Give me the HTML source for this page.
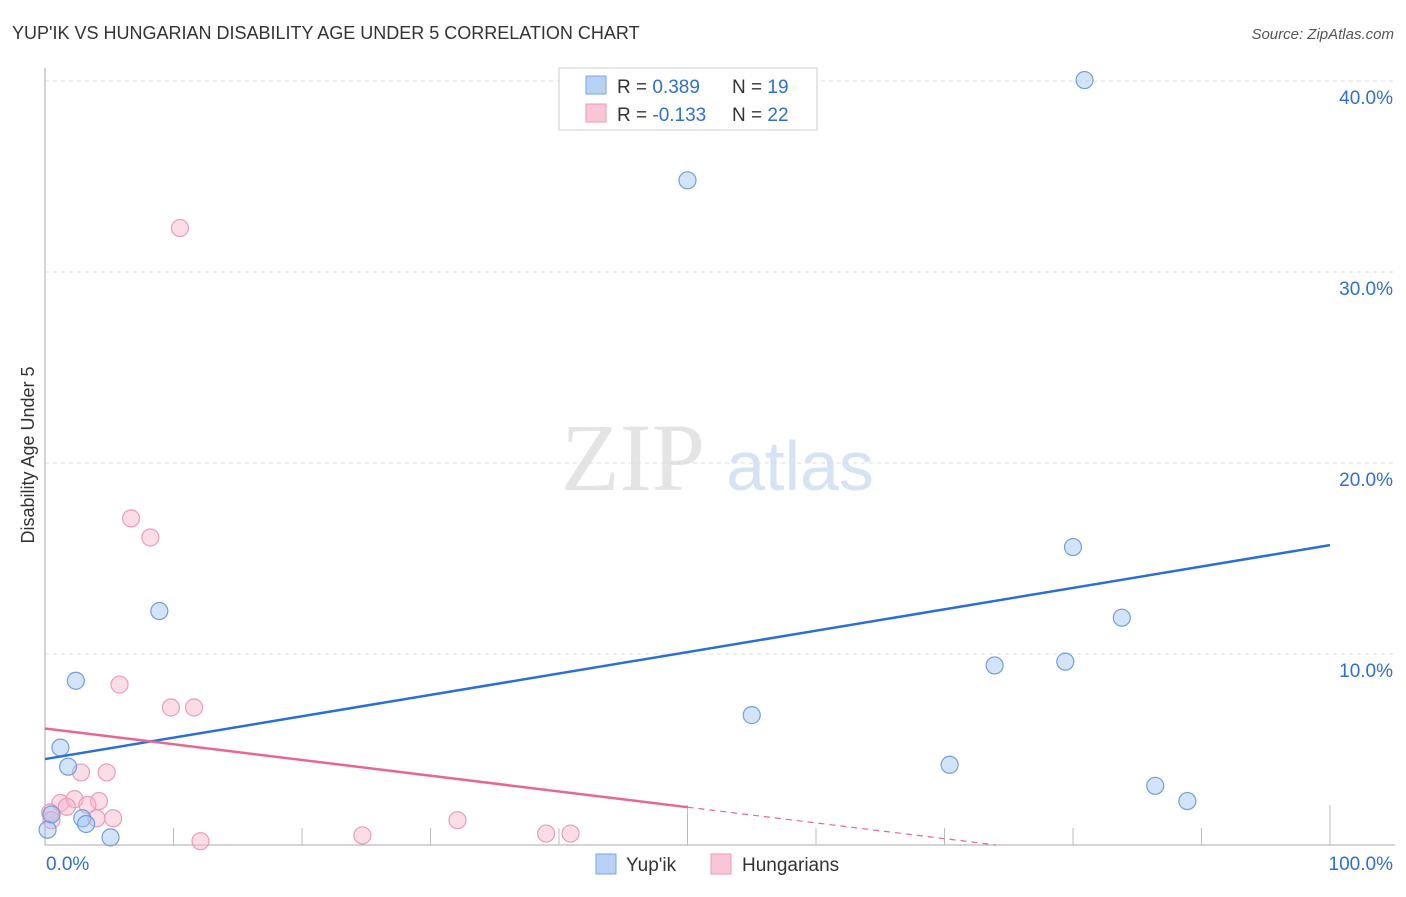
<!DOCTYPE html>
<html><head><meta charset="utf-8"><style>
body{margin:0;background:#fff;font-family:"Liberation Sans",sans-serif;}
</style></head><body>
<svg id="c" width="1406" height="892" xmlns="http://www.w3.org/2000/svg">
<text x="12" y="39" font-size="18" fill="#333">YUP'IK VS HUNGARIAN DISABILITY AGE UNDER 5 CORRELATION CHART</text>
<text x="1394" y="39" font-size="15" fill="#555" font-style="italic" text-anchor="end">Source: ZipAtlas.com</text>
<text x="633" y="490" font-size="96" fill="#e4e4e4" font-family="Liberation Serif,serif" text-anchor="middle">ZIP</text>
<text x="800" y="490" font-size="70" fill="#d6e3f5" text-anchor="middle">atlas</text>
<text transform="translate(34,455) rotate(-90)" font-size="18" fill="#333" text-anchor="middle">Disability Age Under 5</text>
<g id="grid"></g><g id="marks"></g>
<g>
<rect x="559" y="68" width="258" height="62" fill="#fff" stroke="#ccc"/>
<rect x="586" y="76" width="20" height="18" fill="#b7d2f5" stroke="#7aa6e2"/>
<rect x="586" y="104" width="20" height="18" fill="#f9c6d6" stroke="#ee9ab5"/>
<text x="617" y="93" font-size="19" fill="#333">R = <tspan fill="#2f6fd0">0.389</tspan><tspan x="732">N = </tspan><tspan fill="#2f6fd0">19</tspan></text>
<text x="617" y="121" font-size="19" fill="#333">R = <tspan fill="#2f6fd0">-0.133</tspan><tspan x="732">N = </tspan><tspan fill="#2f6fd0">22</tspan></text>
</g>
<g>
<rect x="596" y="854" width="20" height="20" fill="#b7d2f5" stroke="#7aa6e2"/>
<text x="626" y="871" font-size="19" fill="#333">Yup'ik</text>
<rect x="711" y="854" width="20" height="20" fill="#f9c6d6" stroke="#ee9ab5"/>
<text x="742" y="871" font-size="19" fill="#333">Hungarians</text>
</g>
</svg>
<script>
const yTicks=[10,20,30,40];
const yTickLabels=["10.0%","20.0%","30.0%","40.0%"];
const xTickLabels=["0.0%","100.0%"];
const blueX=[80.9,50.0,8.9,2.4,1.2,1.8,2.9,3.2,5.1,0.2,0.5,80.0,83.8,73.9,79.4,55.0,70.4,86.4,88.9];
const blueY=[40.05,34.8,12.25,8.6,5.1,4.1,1.4,1.1,0.4,0.8,1.6,15.6,11.9,9.4,9.6,6.8,4.2,3.1,2.3];
const pinkX=[10.5,6.7,8.2,5.8,9.8,11.6,2.8,4.8,1.2,2.3,4.2,3.3,1.7,5.3,4.0,0.4,0.5,12.1,24.7,32.1,39.0,40.9];
const pinkY=[32.3,17.1,16.1,8.4,7.2,7.2,3.8,3.8,2.2,2.4,2.3,2.1,2.0,1.4,1.4,1.7,1.3,0.2,0.5,1.3,0.6,0.6];
const blueLine=[4.5,15.7];
const pinkLine=[6.1,-0.133*0+1.98];
const NS="http://www.w3.org/2000/svg";
const X=v=>45+v*12.85, Y=v=>845-v*19.1;
function mk(t,a,p){const e=document.createElementNS(NS,t);for(const k in a)e.setAttribute(k,a[k]);p.appendChild(e);return e;}
const g=document.getElementById('grid'),m=document.getElementById('marks');
yTicks.forEach((t,i)=>{
 const l=mk('line',{x1:45,x2:1395,y1:Y(t),y2:Y(t),stroke:'#ddd','stroke-dasharray':'4,4'},g);
 
 
 const tx=mk('text',{x:1393,y:Y(t)+23,'font-size':19,fill:'#2f6fd0','text-anchor':'end'},g);
 tx.textContent=yTickLabels[i];
 
 
});
const ax=mk('line',{x1:45,x2:1395,y1:845,y2:845,stroke:'#aaa'},g);


const ay=mk('line',{x1:45,x2:45,y1:68,y2:845,stroke:'#aaa'},g);


for(let i=1;i<=10;i++){const tk=mk('line',{x1:X(i*10),x2:X(i*10),y1:(i%5==0)?805:828,y2:845,stroke:'#bbb'},g);
 
 }
[[X(0)+1,'start',xTickLabels[0]],[1393,'end',xTickLabels[1]]].forEach(a=>{
 const tx=mk('text',{x:a[0],y:870,'font-size':19,fill:'#2f6fd0','text-anchor':a[1]},g);tx.textContent=a[2];
 
 });
pinkX.forEach((x,i)=>{const c=mk('circle',{cx:X(x),cy:Y(pinkY[i]),r:8.5,fill:'rgba(246,180,202,0.45)',stroke:'#eb9cb6','stroke-width':1.2},m);
 
 });
blueX.forEach((x,i)=>{const c=mk('circle',{cx:X(x),cy:Y(blueY[i]),r:8.5,fill:'rgba(160,195,240,0.45)',stroke:'#6f9ee0','stroke-width':1.2},m);
 
 });
const bl=mk('line',{x1:X(0),y1:Y(blueLine[0]),x2:X(100),y2:Y(blueLine[1]),stroke:'#2a6fd6','stroke-width':2.5},m);


const slope=(pinkLine[1]-pinkLine[0])/50;
const pl=mk('line',{x1:X(0),y1:Y(pinkLine[0]),x2:X(50),y2:Y(pinkLine[1]),stroke:'#e8678f','stroke-width':2.5},m);


const xz=-pinkLine[0]/slope;
const pd=mk('line',{x1:X(50),y1:Y(pinkLine[1]),x2:X(xz),y2:Y(0),stroke:'#e8678f','stroke-width':1.2,'stroke-dasharray':'6,5'},m);


</script>
</body></html>
